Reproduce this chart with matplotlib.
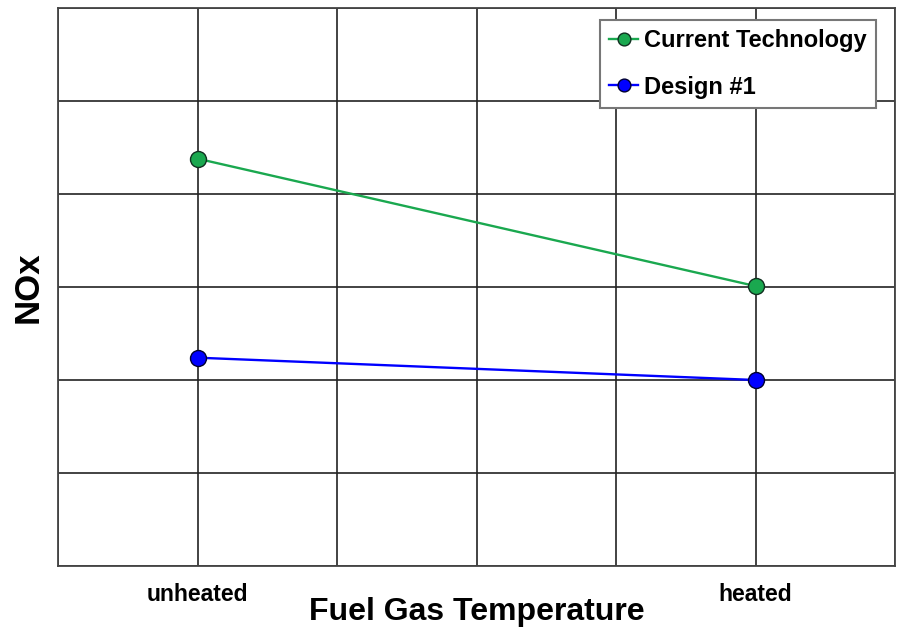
import numpy as np
import matplotlib
matplotlib.use("Agg")
import matplotlib.pyplot as plt

# data
categories = ['unheated', 'heated']
cat_pos = [1, 5]
current_tech = [4.38, 3.01]
design_1 = [2.24, 2.00]

plt.rcParams['font.family'] = ['Liberation Sans', 'DejaVu Sans']
plt.rcParams['font.weight'] = 'bold'

fig = plt.figure(figsize=(8.99, 6.30), dpi=100)
ax = fig.add_axes([58/899, 64/630, 837/899, 558/630])

ax.plot(cat_pos, current_tech, color='#1aa84f', lw=1.7, marker='o', ms=11.5,
        mfc='#1aa84f', mec='#103020', mew=1, label='Current Technology', zorder=3)
ax.plot(cat_pos, design_1, color='#0000ff', lw=1.7, marker='o', ms=11.5,
        mfc='#0000ff', mec='#000030', mew=1, label='Design #1', zorder=3)

ax.set_xlim(0, 6)
ax.set_ylim(0, 6)
ax.set_xticks(np.arange(0, 7))
ax.set_xticklabels([])
ax.set_yticks(np.arange(0, 7))
ax.set_yticklabels([])
ax.grid(True, color='#222222', lw=1.2)
ax.tick_params(length=0)

# category labels
for p, c in zip(cat_pos, categories):
    ax.text(p, -0.18, c, ha='center', va='top', fontsize=16.5, fontweight='bold')

for s in ax.spines.values():
    s.set_color('#444444')
    s.set_linewidth(1.3)

ax.set_xlabel('Fuel Gas Temperature', fontsize=23, fontweight='bold', labelpad=19)
ax.set_ylabel('NOx', fontsize=25, fontweight='bold', labelpad=6)

leg = ax.legend(loc='upper right', bbox_to_anchor=(0.977, 0.9785), borderaxespad=0,
                fancybox=False, framealpha=1, edgecolor='#777777',
                prop={'size': 17, 'weight': 'bold'}, handlelength=1.2,
                handletextpad=0.25, labelspacing=0.98, borderpad=0.4, markerscale=0.8)
leg.get_frame().set_linewidth(1.5)

fig.savefig('out.png', dpi=100)
